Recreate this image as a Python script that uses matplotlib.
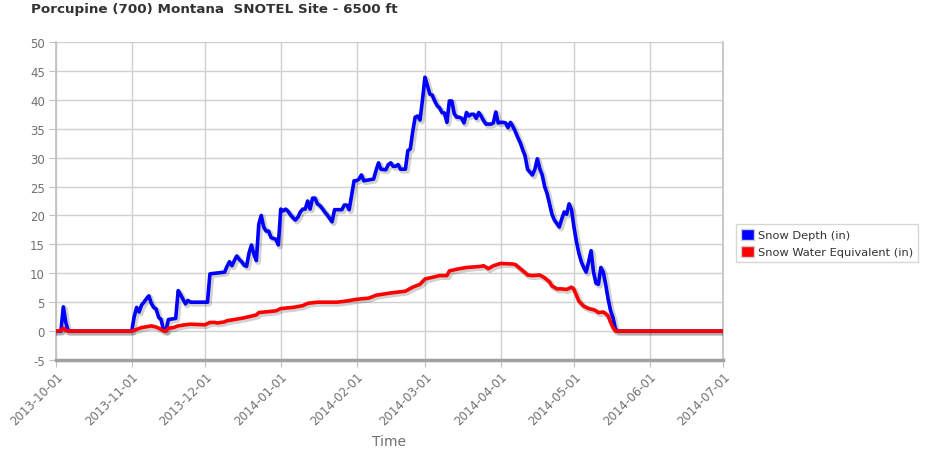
import matplotlib
matplotlib.use("Agg")
import numpy as np
import pandas as pd
from matplotlib import pyplot as plt
import matplotlib.dates as mdates
import matplotlib.patheffects as pe
from matplotlib.patches import Patch

plt.rcParams["axes.unicode_minus"] = False

# Snow depth (in) at the points where it changes
depth_dates = [
    "2013-10-01", "2013-10-03", "2013-10-04", "2013-10-05", "2013-10-06", "2013-11-01",
    "2013-11-02", "2013-11-03", "2013-11-04", "2013-11-05", "2013-11-06", "2013-11-07",
    "2013-11-08", "2013-11-09", "2013-11-10", "2013-11-11", "2013-11-12", "2013-11-13",
    "2013-11-14", "2013-11-15", "2013-11-16", "2013-11-19", "2013-11-20", "2013-11-21",
    "2013-11-22", "2013-11-23", "2013-11-24", "2013-11-25", "2013-12-02", "2013-12-03",
    "2013-12-09", "2013-12-10", "2013-12-11", "2013-12-12", "2013-12-13", "2013-12-14",
    "2013-12-15", "2013-12-16", "2013-12-17", "2013-12-18", "2013-12-19", "2013-12-20",
    "2013-12-21", "2013-12-22", "2013-12-23", "2013-12-24", "2013-12-25", "2013-12-26",
    "2013-12-27", "2013-12-28", "2013-12-29", "2013-12-30", "2013-12-31",
    "2014-01-01", "2014-01-02", "2014-01-03", "2014-01-04", "2014-01-05", "2014-01-06",
    "2014-01-07", "2014-01-08", "2014-01-09", "2014-01-10", "2014-01-11", "2014-01-12",
    "2014-01-13", "2014-01-14", "2014-01-15", "2014-01-16", "2014-01-17", "2014-01-18",
    "2014-01-19", "2014-01-20", "2014-01-21", "2014-01-22", "2014-01-23", "2014-01-26",
    "2014-01-27", "2014-01-28", "2014-01-29", "2014-01-30", "2014-01-31",
    "2014-02-01", "2014-02-02", "2014-02-03", "2014-02-04", "2014-02-08", "2014-02-09",
    "2014-02-10", "2014-02-11", "2014-02-13", "2014-02-14", "2014-02-15", "2014-02-16",
    "2014-02-17", "2014-02-18", "2014-02-19", "2014-02-21", "2014-02-22", "2014-02-23",
    "2014-02-24", "2014-02-25", "2014-02-26", "2014-02-27", "2014-02-28",
    "2014-03-01", "2014-03-02", "2014-03-03", "2014-03-04", "2014-03-05", "2014-03-06",
    "2014-03-07", "2014-03-08", "2014-03-09", "2014-03-10", "2014-03-11", "2014-03-12",
    "2014-03-13", "2014-03-14", "2014-03-15", "2014-03-16", "2014-03-17", "2014-03-18",
    "2014-03-19", "2014-03-20", "2014-03-21", "2014-03-22", "2014-03-23", "2014-03-24",
    "2014-03-25", "2014-03-26", "2014-03-28", "2014-03-29", "2014-03-30", "2014-03-31",
    "2014-04-01", "2014-04-02", "2014-04-03", "2014-04-04", "2014-04-05", "2014-04-06",
    "2014-04-07", "2014-04-08", "2014-04-09", "2014-04-10", "2014-04-11", "2014-04-12",
    "2014-04-13", "2014-04-14", "2014-04-15", "2014-04-16", "2014-04-17", "2014-04-18",
    "2014-04-19", "2014-04-20", "2014-04-21", "2014-04-22", "2014-04-23", "2014-04-24",
    "2014-04-25", "2014-04-26", "2014-04-27", "2014-04-28", "2014-04-29", "2014-04-30",
    "2014-05-01", "2014-05-02", "2014-05-03", "2014-05-04", "2014-05-05", "2014-05-06",
    "2014-05-07", "2014-05-08", "2014-05-09", "2014-05-10", "2014-05-11", "2014-05-12",
    "2014-05-13", "2014-05-14", "2014-05-15", "2014-05-16", "2014-05-17", "2014-05-18",
    "2014-05-19", "2014-07-01",
]
depth_in = [
    0, 0, 4.2, 1.5, 0, 0,
    2.5, 4.1, 3.3, 4.5, 5.0, 5.6,
    6.1, 4.8, 4.1, 3.8, 2.4, 2.0,
    0.2, 0, 2.0, 2.2, 7.0, 6.3,
    5.5, 4.7, 5.3, 5.0, 5.0, 9.9,
    10.2, 11.2, 12.0, 11.3, 12.2, 13.0,
    12.4, 12.0, 11.4, 11.2, 13.5, 14.9,
    13.3, 12.2, 18.5, 20.0, 18.0, 17.3,
    17.3, 16.2, 16.0, 15.9, 14.9,
    21.1, 20.8, 21.1, 20.7, 20.1, 19.6,
    19.2, 19.7, 20.6, 21.1, 21.1, 22.5,
    21.1, 23.0, 23.0, 22.0, 21.7, 21.2,
    20.6, 20.1, 19.5, 18.9, 21.0, 21.0,
    21.8, 21.8, 21.0, 23.5, 26.0,
    26.0, 26.3, 27.0, 26.0, 26.3, 27.8,
    29.1, 28.0, 27.9, 28.8, 29.1, 28.5,
    28.5, 28.8, 28.0, 28.0, 31.2, 31.5,
    34.5, 37.0, 37.2, 36.5, 40.0,
    43.9, 42.5, 41.0, 40.8, 39.8, 39.0,
    38.6, 37.8, 37.7, 36.1, 39.8, 39.8,
    37.6, 37.0, 37.0, 36.8, 36.0, 37.8,
    37.2, 37.5, 37.5, 36.8, 37.8, 37.2,
    36.4, 35.8, 35.8, 36.0, 37.9, 36.0,
    36.1, 36.1, 36.0, 35.2, 36.1, 35.4,
    34.5, 33.5, 32.6, 31.4, 30.3, 28.0,
    27.5, 27.0, 28.0, 29.8, 28.1, 27.0,
    25.0, 23.8, 22.0, 20.2, 19.2, 18.6,
    18.0, 19.4, 20.6, 20.2, 22.0, 21.0,
    18.0, 15.5, 13.5, 12.0, 11.0, 10.2,
    12.0, 13.9, 10.2, 8.3, 8.1, 11.0,
    10.2, 8.0, 5.5, 3.5, 2.3, 0.3,
    0, 0,
]

# Snow water equivalent (in)
swe_dates = [
    "2013-10-01", "2013-10-03", "2013-10-04", "2013-10-05", "2013-10-06", "2013-11-01",
    "2013-11-03", "2013-11-05", "2013-11-09", "2013-11-11", "2013-11-13", "2013-11-14",
    "2013-11-15", "2013-11-16", "2013-11-18", "2013-11-20", "2013-11-23", "2013-11-25",
    "2013-12-01", "2013-12-03", "2013-12-05", "2013-12-06", "2013-12-09", "2013-12-10",
    "2013-12-13", "2013-12-17", "2013-12-20", "2013-12-22", "2013-12-23", "2013-12-30",
    "2014-01-01", "2014-01-06", "2014-01-10", "2014-01-12", "2014-01-16", "2014-01-24",
    "2014-01-28", "2014-02-01", "2014-02-06", "2014-02-09", "2014-02-15", "2014-02-21",
    "2014-02-24", "2014-02-27", "2014-03-01", "2014-03-04", "2014-03-07", "2014-03-10",
    "2014-03-11", "2014-03-14", "2014-03-18", "2014-03-24", "2014-03-25", "2014-03-27",
    "2014-03-29", "2014-04-01", "2014-04-06", "2014-04-07", "2014-04-09", "2014-04-11",
    "2014-04-12", "2014-04-14", "2014-04-17", "2014-04-19", "2014-04-21", "2014-04-22",
    "2014-04-24", "2014-04-26", "2014-04-28", "2014-04-30", "2014-05-01", "2014-05-02",
    "2014-05-03", "2014-05-05", "2014-05-07", "2014-05-09", "2014-05-10", "2014-05-11",
    "2014-05-13", "2014-05-14", "2014-05-15", "2014-05-16", "2014-05-17", "2014-05-18",
    "2014-07-01",
]
swe_in = [
    0, 0.1, 0.5, 0.1, 0, 0,
    0.3, 0.6, 0.9, 0.7, 0.3, 0,
    0, 0.5, 0.6, 0.9, 1.1, 1.2,
    1.1, 1.5, 1.5, 1.4, 1.6, 1.8,
    2.0, 2.3, 2.6, 2.8, 3.2, 3.5,
    3.9, 4.1, 4.4, 4.8, 5.0, 5.0,
    5.2, 5.5, 5.7, 6.2, 6.6, 6.9,
    7.6, 8.1, 9.0, 9.3, 9.6, 9.6,
    10.4, 10.7, 11.0, 11.2, 11.3, 10.8,
    11.3, 11.7, 11.6, 11.5, 10.8, 10.1,
    9.7, 9.6, 9.7, 9.2, 8.5, 7.8,
    7.3, 7.3, 7.2, 7.6, 7.2, 6.2,
    5.2, 4.3, 3.9, 3.7, 3.5, 3.2,
    3.3, 3.0, 2.6, 1.5, 0.6, 0,
    0,
]

month_ticks = ["2013-10-01", "2013-11-01", "2013-12-01", "2014-01-01", "2014-02-01",
               "2014-03-01", "2014-04-01", "2014-05-01", "2014-06-01", "2014-07-01"]
y_ticks = [-5, 0, 5, 10, 15, 20, 25, 30, 35, 40, 45, 50]

fig = plt.figure(figsize=(9.43, 4.60), dpi=100)
ax = fig.add_axes([56 / 943, 1 - 361 / 460, (723 - 56) / 943, (361 - 43) / 460])

shadow = [pe.SimpleLineShadow(offset=(1.2, -1.2), shadow_color="black", alpha=0.18, linewidth=4), pe.Normal()]
ax.plot(pd.to_datetime(depth_dates), depth_in, color="#0000FF", lw=2.6, path_effects=shadow, zorder=3)
ax.plot(pd.to_datetime(swe_dates), swe_in, color="#FF0000", lw=2.6, path_effects=shadow, zorder=4)

ax.set_xlim(pd.Timestamp("2013-10-01"), pd.Timestamp("2014-07-01"))
ax.set_ylim(-5, 50)
ax.set_yticks(y_ticks)
ax.set_xticks(pd.to_datetime(month_ticks))
ax.xaxis.set_major_formatter(mdates.DateFormatter("%Y-%m-%d"))
ax.grid(True, color="#d0d0d0", lw=1)
ax.set_axisbelow(True)

for side in ["left", "right"]:
    ax.spines[side].set_color("#c0c0c0")
    ax.spines[side].set_linewidth(1.2)
ax.spines["top"].set_visible(False)
ax.spines["bottom"].set_color("#a0a0a0")
ax.spines["bottom"].set_linewidth(2.5)

ax.tick_params(axis="y", colors="#c0c0c0", labelcolor="#707070", labelsize=8.5, length=5, pad=3)
ax.tick_params(axis="x", colors="#c0c0c0", labelcolor="#707070", labelsize=8.5, length=5, pad=2)
for lbl in ax.get_xticklabels():
    lbl.set_rotation(45)
    lbl.set_ha("right")
    lbl.set_rotation_mode("anchor")

ax.set_xlabel("Time", color="#707070", fontsize=10, labelpad=5)

fig.text(31 / 943, 1 - 10 / 460, "Porcupine (700) Montana  SNOTEL Site - 6500 ft",
         fontsize=9.7, fontweight="bold", color="#333333", va="center", ha="left")

handles = [Patch(facecolor="#0000FF", edgecolor="#d0d0d0"),
           Patch(facecolor="#FF0000", edgecolor="#d0d0d0")]
fig.legend(handles, ["Snow Depth (in)", "Snow Water Equivalent (in)"],
           loc="upper left", bbox_to_anchor=(736 / 943, 1 - 225 / 460), borderaxespad=0,
           fontsize=8.2, handlelength=1.1, handleheight=1.1, handletextpad=0.4,
           borderpad=0.45, labelspacing=0.45, frameon=True, fancybox=False,
           edgecolor="#cccccc", labelcolor="#333333")

fig.savefig("out.png", dpi=100)
